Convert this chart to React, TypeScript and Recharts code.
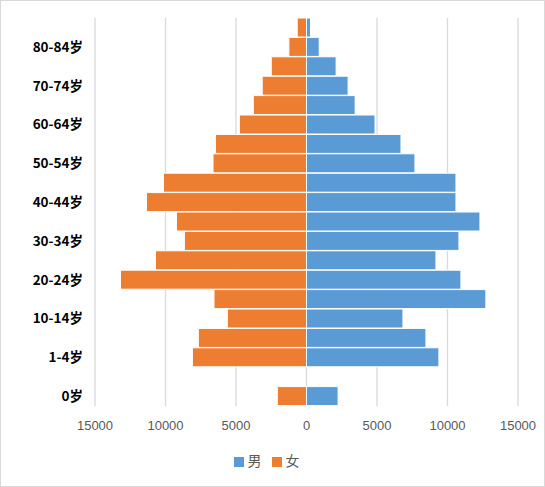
import { BarChart, Bar, XAxis, YAxis, CartesianGrid, Legend } from "recharts"

// age groups from youngest (bottom) to oldest (top)
const ageGroups = [
  "0岁", "1岁", "1-4岁", "5-9岁", "10-14岁", "15-19岁", "20-24岁", "25-29岁",
  "30-34岁", "35-39岁", "40-44岁", "45-49岁", "50-54岁", "55-59岁", "60-64岁",
  "65-69岁", "70-74岁", "75-79岁", "80-84岁", "85岁以上",
]
const maleValues = [
  2240, 0, 9390, 8470, 6840, 12720, 10950, 9180, 10810, 12300, 10600, 10600,
  7690, 6700, 4860, 3450, 2950, 2100, 900, 280,
]
const femaleValues = [
  2070, 0, 8090, 7670, 5610, 6560, 13190, 10710, 8660, 9220, 11350, 10140,
  6630, 6460, 4760, 3770, 3140, 2500, 1250, 660,
]
const seriesNames = ["男", "女"]
const xTicks = [-15000, -10000, -5000, 0, 5000, 10000, 15000]

const data = ageGroups.map((age, i) => ({
  age,
  男: maleValues[i],
  女: -femaleValues[i],
}))

export default function App() {
  return (
    <div style={{ position: "relative", width: 545, height: 487 }}>
      <style>{`body{margin:0}`}</style>
      <BarChart
        width={545}
        height={487}
        data={data}
        layout="vertical"
        stackOffset="sign"
        barCategoryGap={0}
        margin={{ top: 18, right: 27, bottom: 17, left: 0 }}
      >
        <CartesianGrid horizontal={false} stroke="#d9d9d9" strokeWidth={1.3} />
        <XAxis
          type="number"
          domain={[-15000, 15000]}
          ticks={xTicks}
          tickFormatter={(v: number) => String(Math.abs(v))}
          axisLine={false}
          tickLine={false}
          tickMargin={9}
          height={44}
          tick={{ fill: "#595959", fontSize: 13, fontFamily: "Liberation Sans, Arial" }}
        />
        <YAxis
          type="category"
          dataKey="age"
          reversed
          interval={1}
          width={95}
          axisLine={false}
          tickLine={false}
          tickMargin={6}
          tick={{ fill: "#000", fontSize: 13.5, fontWeight: "bold", fontFamily: "Noto Sans CJK SC" }}
        />
        <Legend
          verticalAlign="bottom"
          iconType="square"
          iconSize={10}
          wrapperStyle={{ left: 0, width: 543 }}
          itemSorter={(item: { value: string }) => seriesNames.indexOf(item.value)}
          formatter={(value: string) => (
            <span style={{ color: "#595959", fontSize: 14, fontFamily: "Noto Sans CJK SC" }}>{value}</span>
          )}
        />
        <Bar dataKey="男" stackId="a" fill="#5b9bd5" stroke="#fff" strokeWidth={1} isAnimationActive={false} />
        <Bar dataKey="女" stackId="a" fill="#ed7d31" stroke="#fff" strokeWidth={1} isAnimationActive={false} />
      </BarChart>
      <div
        style={{
          position: "absolute",
          inset: 0,
          border: "1px solid #d9d9d9",
          boxSizing: "border-box",
          pointerEvents: "none",
        }}
      />
    </div>
  )
}
